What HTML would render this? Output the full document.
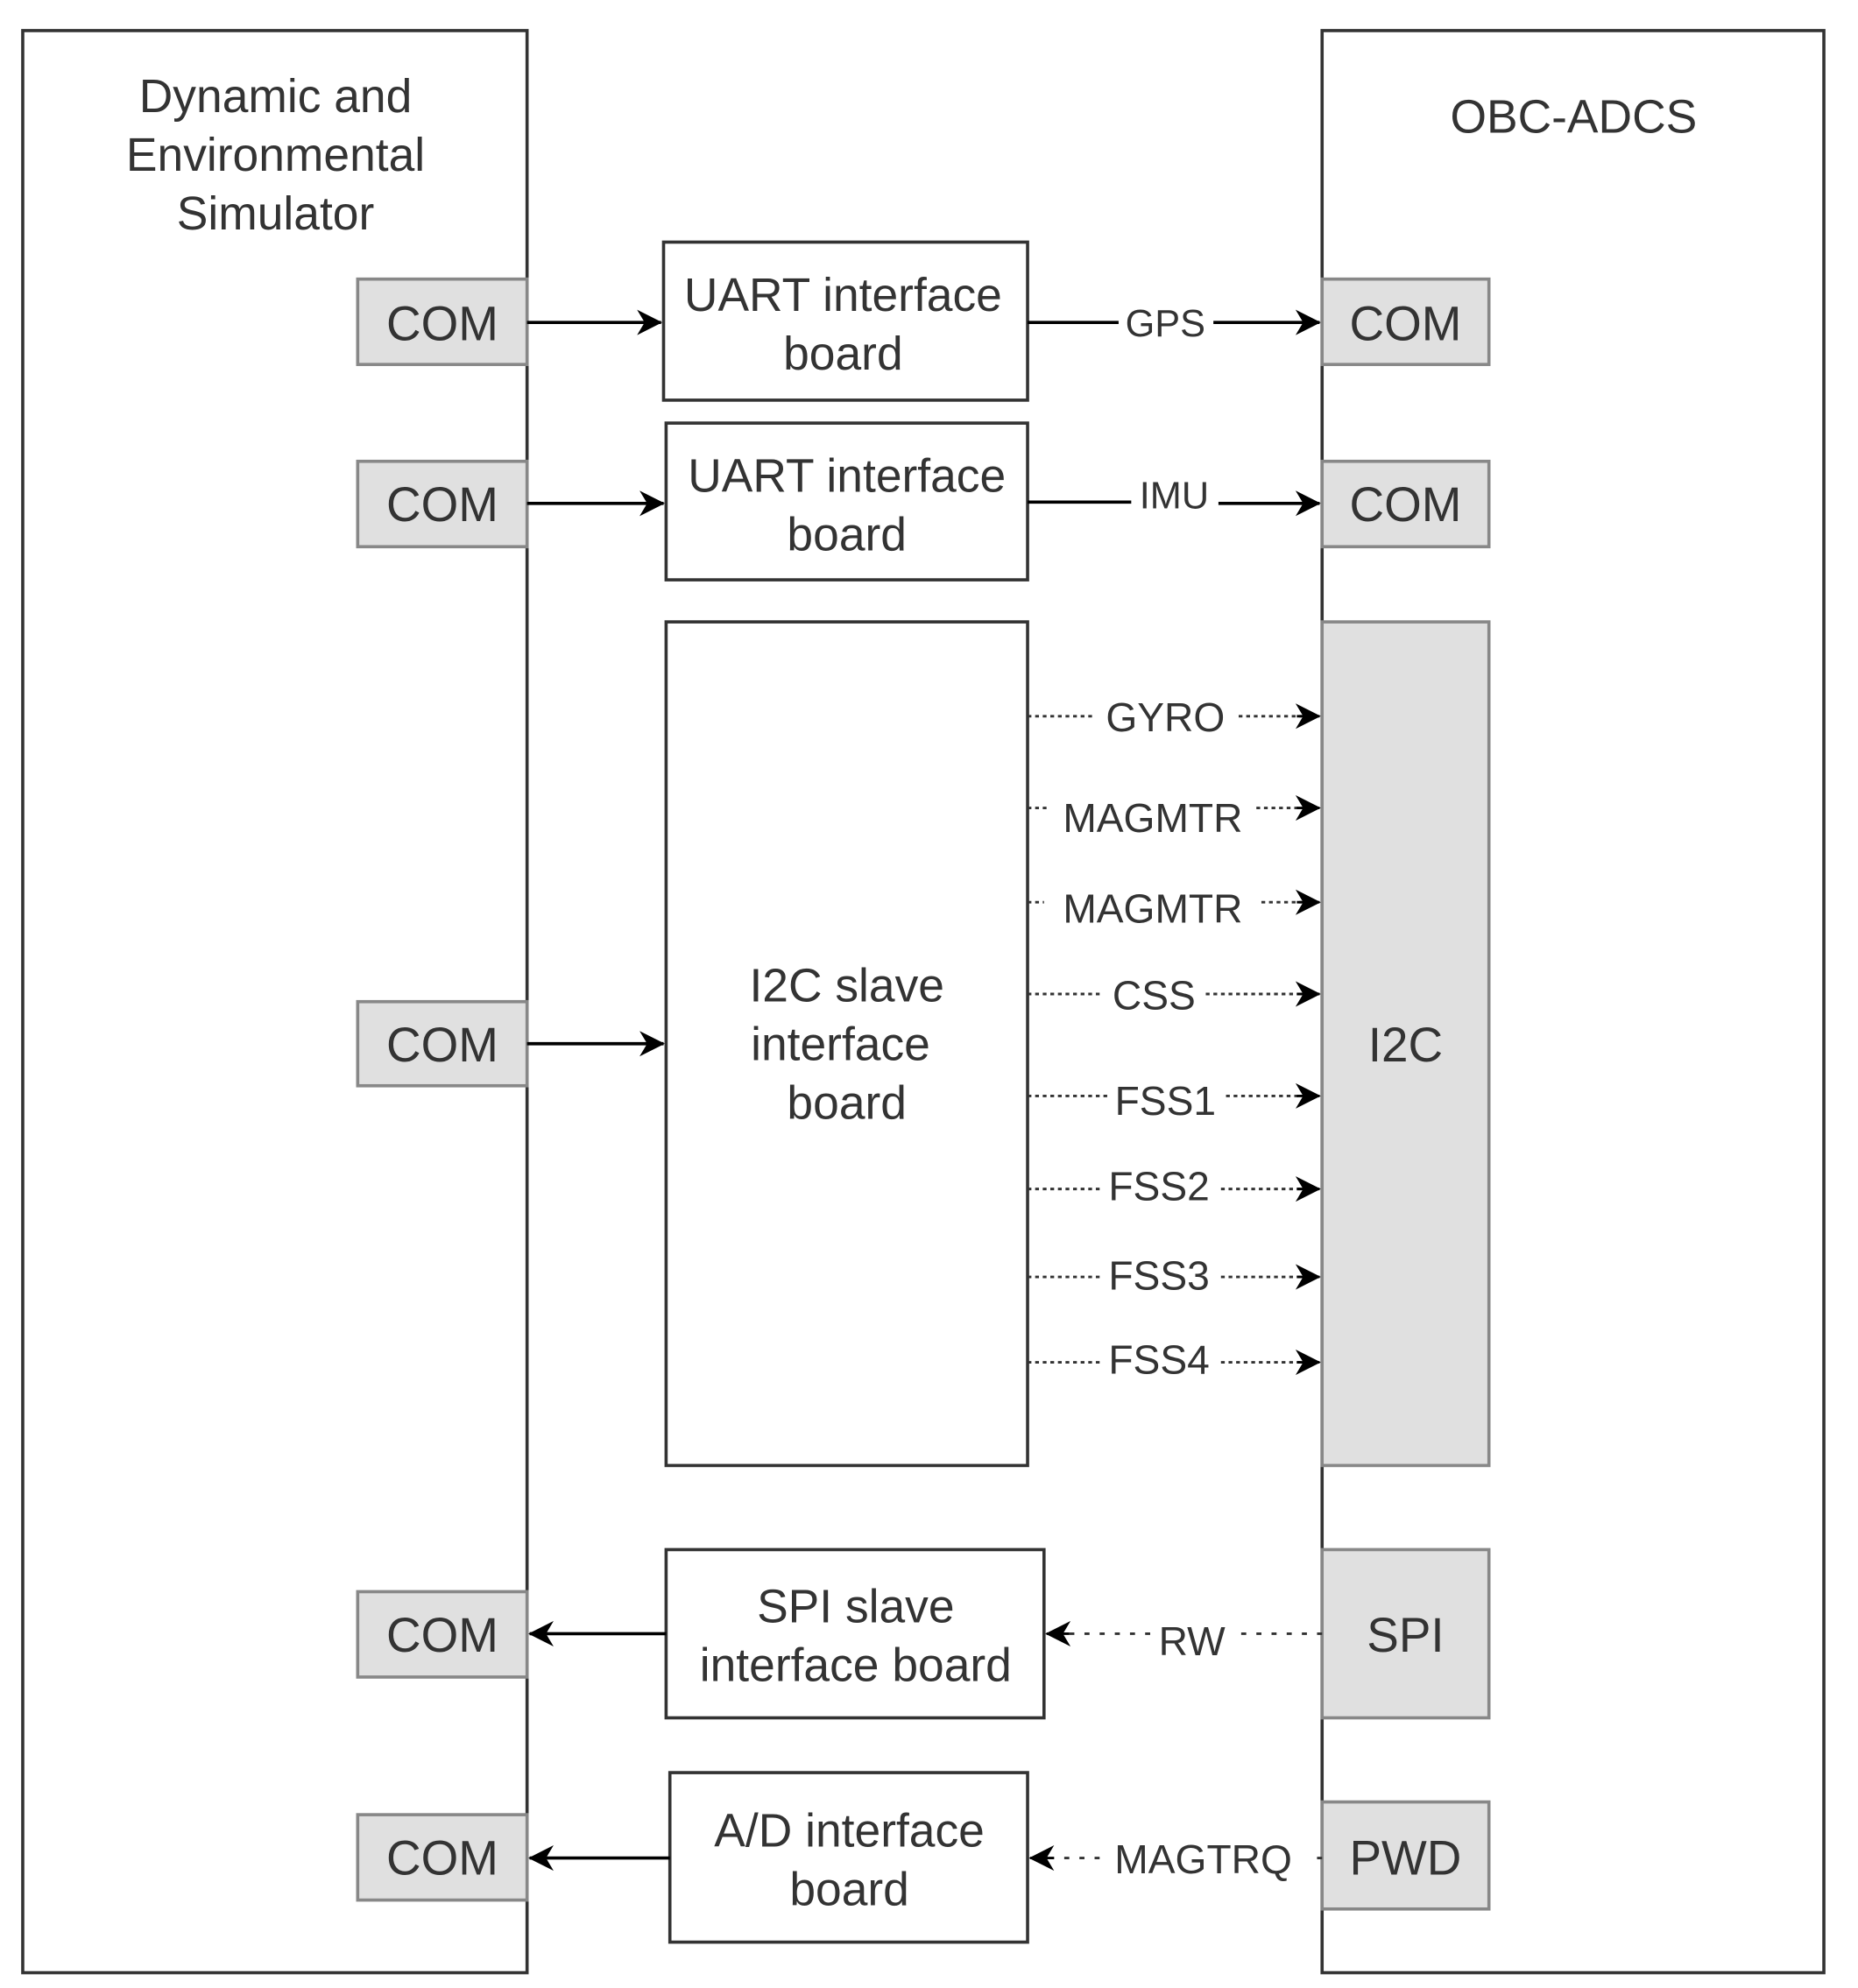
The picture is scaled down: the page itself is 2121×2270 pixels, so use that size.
<!DOCTYPE html>
<html><head><meta charset="utf-8"><style>
html,body{margin:0;padding:0;background:#fff;}
svg{display:block;}
text{font-family:"Liberation Sans",Arial,sans-serif;fill:#333;}
</style></head><body>
<svg width="2121" height="2270" viewBox="0 0 1470 1560" preserveAspectRatio="none" xmlns="http://www.w3.org/2000/svg">
<defs>
<marker id="ah" viewBox="0 0 20 20" refX="19" refY="10" markerWidth="20" markerHeight="20" markerUnits="userSpaceOnUse" orient="auto">
<path d="M0,0 L20,10 L0,20 L6,10 Z" fill="#000"/>
</marker>
</defs>
<!-- main containers -->
<rect x="18" y="24" width="399" height="1524" fill="#fff" stroke="#333" stroke-width="2.5"/>
<rect x="1046" y="24" width="397" height="1524" fill="#fff" stroke="#333" stroke-width="2.5"/>
<text x="218" y="88" font-size="37" text-anchor="middle">Dynamic and</text>
<text x="218" y="134" font-size="37" text-anchor="middle">Environmental</text>
<text x="218" y="180" font-size="37" text-anchor="middle">Simulator</text>
<text x="1245" y="104" font-size="37" text-anchor="middle">OBC-ADCS</text>

<!-- left COM boxes -->
<g fill="#e0e0e0" stroke="#888" stroke-width="2.5">
<rect x="283" y="219" width="134" height="67"/>
<rect x="283" y="362" width="134" height="67"/>
<rect x="283" y="786" width="134" height="66"/>
<rect x="283" y="1249" width="134" height="67"/>
<rect x="283" y="1424" width="134" height="67"/>
<rect x="1046" y="219" width="132" height="67"/>
<rect x="1046" y="362" width="132" height="67"/>
<rect x="1046" y="488" width="132" height="662"/>
<rect x="1046" y="1216" width="132" height="132"/>
<rect x="1046" y="1414" width="132" height="84"/>
</g>
<g font-size="38" text-anchor="middle">
<text x="350" y="267">COM</text>
<text x="350" y="409">COM</text>
<text x="350" y="833">COM</text>
<text x="350" y="1296">COM</text>
<text x="350" y="1471">COM</text>
<text x="1112" y="267">COM</text>
<text x="1112" y="409">COM</text>
<text x="1112" y="833">I2C</text>
<text x="1112" y="1296">SPI</text>
<text x="1112" y="1471">PWD</text>
</g>

<!-- interface boards -->
<g fill="#fff" stroke="#333" stroke-width="2.5">
<rect x="525" y="190" width="288" height="124"/>
<rect x="527" y="332" width="286" height="123"/>
<rect x="527" y="488" width="286" height="662"/>
<rect x="527" y="1216" width="299" height="132"/>
<rect x="530" y="1391" width="283" height="133"/>
</g>
<g font-size="37" text-anchor="middle">
<text x="667" y="244">UART interface</text>
<text x="667" y="290">board</text>
<text x="670" y="386">UART interface</text>
<text x="670" y="432">board</text>
<text x="670" y="786">I2C slave</text>
<text x="665" y="832">interface</text>
<text x="670" y="878">board</text>
<text x="677" y="1273">SPI slave</text>
<text x="677" y="1319">interface board</text>
<text x="672" y="1449">A/D interface</text>
<text x="672" y="1495">board</text>
</g>

<!-- solid arrows -->
<g stroke="#000" stroke-width="2.5" fill="none">
<line x1="417" y1="253" x2="523" y2="253" marker-end="url(#ah)"/>
<line x1="417" y1="395" x2="525" y2="395" marker-end="url(#ah)"/>
<line x1="417" y1="819" x2="525" y2="819" marker-end="url(#ah)"/>
<line x1="527" y1="1282" x2="419" y2="1282" marker-end="url(#ah)"/>
<line x1="530" y1="1458" x2="419" y2="1458" marker-end="url(#ah)"/>
<line x1="813" y1="253" x2="885" y2="253"/>
<line x1="960" y1="253" x2="1044" y2="253" marker-end="url(#ah)"/>
<line x1="813" y1="394" x2="895" y2="394"/>
<line x1="964" y1="395" x2="1044" y2="395" marker-end="url(#ah)"/>
</g>
<g font-size="30" text-anchor="middle">
<text x="922" y="264">GPS</text>
<text x="929" y="399">IMU</text>
</g>

<!-- dotted arrows -->
<g stroke="#333" stroke-width="2" stroke-dasharray="3,3" fill="none">
<line x1="813" y1="562" x2="866" y2="562"/><line x1="980" y1="562" x2="1030" y2="562"/>
<line x1="813" y1="634" x2="830" y2="634"/><line x1="994" y1="634" x2="1030" y2="634"/>
<line x1="813" y1="708" x2="826" y2="708"/><line x1="998" y1="708" x2="1030" y2="708"/>
<line x1="813" y1="780" x2="872" y2="780"/><line x1="954" y1="780" x2="1030" y2="780"/>
<line x1="813" y1="860" x2="876" y2="860"/><line x1="970" y1="860" x2="1030" y2="860"/>
<line x1="813" y1="933" x2="870" y2="933"/><line x1="966" y1="933" x2="1030" y2="933"/>
<line x1="813" y1="1002" x2="870" y2="1002"/><line x1="966" y1="1002" x2="1030" y2="1002"/>
<line x1="813" y1="1069" x2="870" y2="1069"/><line x1="966" y1="1069" x2="1030" y2="1069"/>
</g>
<g stroke="#000" stroke-width="2" fill="none">
<line x1="1026" y1="562" x2="1044" y2="562" marker-end="url(#ah)"/>
<line x1="1026" y1="634" x2="1044" y2="634" marker-end="url(#ah)"/>
<line x1="1026" y1="708" x2="1044" y2="708" marker-end="url(#ah)"/>
<line x1="1026" y1="780" x2="1044" y2="780" marker-end="url(#ah)"/>
<line x1="1026" y1="860" x2="1044" y2="860" marker-end="url(#ah)"/>
<line x1="1026" y1="933" x2="1044" y2="933" marker-end="url(#ah)"/>
<line x1="1026" y1="1002" x2="1044" y2="1002" marker-end="url(#ah)"/>
<line x1="1026" y1="1069" x2="1044" y2="1069" marker-end="url(#ah)"/>
</g>
<g font-size="32" text-anchor="middle">
<text x="922" y="574">GYRO</text>
<text x="912" y="653">MAGMTR</text>
<text x="912" y="724">MAGMTR</text>
<text x="913" y="792">CSS</text>
<text x="922" y="875">FSS1</text>
<text x="917" y="942">FSS2</text>
<text x="917" y="1012">FSS3</text>
<text x="917" y="1078">FSS4</text>
</g>

<!-- RW and MAGTRQ -->
<g stroke="#333" stroke-width="2" stroke-dasharray="4,8" fill="none">
<line x1="1046" y1="1282" x2="978" y2="1282"/>
<line x1="910" y1="1282" x2="846" y2="1282"/>
<line x1="1046" y1="1458" x2="1034" y2="1458"/>
<line x1="870" y1="1458" x2="840" y2="1458"/>
</g>
<g stroke="#000" stroke-width="2" fill="none">
<line x1="846" y1="1282" x2="828" y2="1282" marker-end="url(#ah)"/>
<line x1="834" y1="1458" x2="815" y2="1458" marker-end="url(#ah)"/>
</g>
<g font-size="32" text-anchor="middle">
<text x="943" y="1299">RW</text>
<text x="952" y="1470">MAGTRQ</text>
</g>
</svg>
</body></html>
